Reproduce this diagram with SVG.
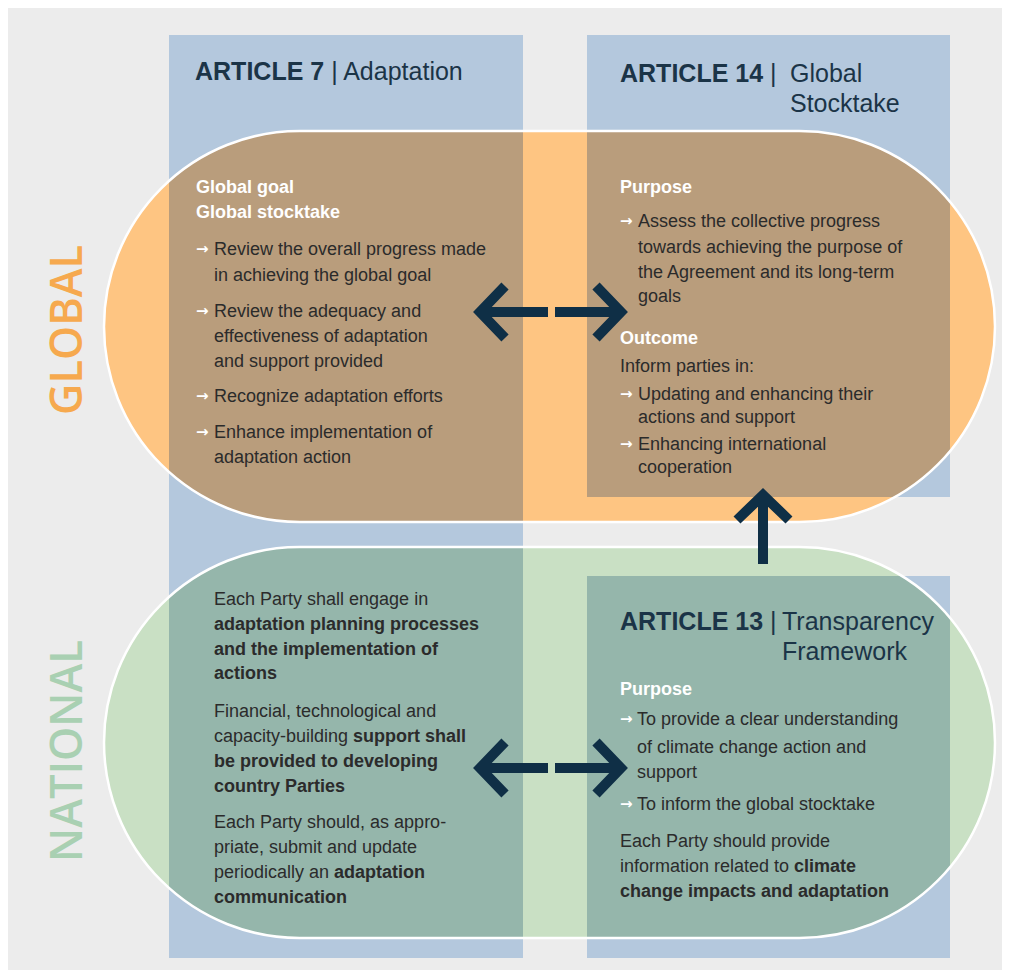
<svg xmlns="http://www.w3.org/2000/svg" width="1010" height="978" viewBox="0 0 1010 978">
<style>
.body{font-family:"Liberation Sans",Arial,sans-serif;font-size:18px;fill:#2b2b2b}
.b{font-weight:bold}
.wh{font-family:"Liberation Sans",Arial,sans-serif;font-size:18px;font-weight:bold;fill:#ffffff}
.bul{font-family:"DejaVu Sans",sans-serif;font-size:15px;font-weight:bold;fill:#ffffff}
.hd{font-family:"Liberation Sans",Arial,sans-serif;font-size:25px;fill:#1b3447}
.side{font-family:"Open Sans","Liberation Sans",Arial,sans-serif;font-size:46px;font-weight:600}
.arr{fill:none;stroke:#0f2f46;stroke-width:10;stroke-linecap:butt;stroke-linejoin:miter}
.outline{fill:none;stroke:#ffffff;stroke-width:2.5}
</style>
<defs>
<clipPath id="cg"><rect x="104" y="131" width="891" height="391" rx="195.5" ry="195.5"/></clipPath>
<clipPath id="cn"><rect x="104" y="547" width="891" height="391" rx="195.5" ry="195.5"/></clipPath>
</defs>
<rect x="0" y="0" width="1010" height="978" fill="#ffffff"/>
<rect x="8" y="8" width="994" height="962" fill="#ececec"/>

<g id="columns">
<rect x="169" y="35" width="354" height="923" fill="#b4c8dd"/>
<rect x="587" y="35" width="363" height="462" fill="#b4c8dd"/>
<rect x="587" y="576" width="363" height="382" fill="#b4c8dd"/>
</g>

<g id="global-pill">
<rect x="104" y="131" width="891" height="391" rx="195.5" ry="195.5" fill="#fec582"/>
<g clip-path="url(#cg)" fill="#b99d7c">
<rect x="169" y="35" width="354" height="923"/>
<rect x="587" y="35" width="363" height="462"/>
</g>
<rect class="outline" x="104" y="131" width="891" height="391" rx="195.5" ry="195.5"/>
</g>

<g id="national-pill">
<rect x="104" y="547" width="891" height="391" rx="195.5" ry="195.5" fill="#c9e0c4"/>
<g clip-path="url(#cn)" fill="#95b6ab">
<rect x="169" y="35" width="354" height="923"/>
<rect x="587" y="576" width="363" height="382"/>
</g>
<rect class="outline" x="104" y="547" width="891" height="391" rx="195.5" ry="195.5"/>
</g>

<g id="label-global">
<text class="side" transform="translate(82,330) rotate(-90)" text-anchor="middle" fill="#f6a94e" textLength="170" lengthAdjust="spacingAndGlyphs">GLOBAL</text>
</g>
<g id="label-national">
<text class="side" transform="translate(82,751) rotate(-90)" text-anchor="middle" fill="#a9d0b2" textLength="222" lengthAdjust="spacingAndGlyphs">NATIONAL</text>
</g>

<g id="article7-global">
<text class="hd" x="195" y="80"><tspan font-weight="bold">ARTICLE 7</tspan> | Adaptation</text>
<text class="wh" x="196" y="193">Global goal</text>
<text class="wh" x="196" y="218">Global stocktake</text>
<text class="bul" x="196" y="254">→</text>
<text class="body" x="214" y="255">Review the overall progress made</text>
<text class="body" x="214" y="281">in achieving the global goal</text>
<text class="bul" x="196" y="316">→</text>
<text class="body" x="214" y="317">Review the adequacy and</text>
<text class="body" x="214" y="342">effectiveness of adaptation</text>
<text class="body" x="214" y="367">and support provided</text>
<text class="bul" x="196" y="401">→</text>
<text class="body" x="214" y="402">Recognize adaptation efforts</text>
<text class="bul" x="196" y="437">→</text>
<text class="body" x="214" y="438">Enhance implementation of</text>
<text class="body" x="214" y="463">adaptation action</text>
</g>

<g id="article14-global">
<text class="hd" x="620" y="82"><tspan font-weight="bold">ARTICLE 14</tspan> | <tspan x="790">Global</tspan></text>
<text class="hd" x="790" y="112">Stocktake</text>
<text class="wh" x="620" y="193">Purpose</text>
<text class="bul" x="620" y="226">→</text>
<text class="body" x="638" y="227">Assess the collective progress</text>
<text class="body" x="638" y="253">towards achieving the purpose of</text>
<text class="body" x="638" y="278">the Agreement and its long-term</text>
<text class="body" x="638" y="302">goals</text>
<text class="wh" x="620" y="344">Outcome</text>
<text class="body" x="620" y="372">Inform parties in:</text>
<text class="bul" x="620" y="399">→</text>
<text class="body" x="638" y="400">Updating and enhancing their</text>
<text class="body" x="638" y="423">actions and support</text>
<text class="bul" x="620" y="449">→</text>
<text class="body" x="638" y="450">Enhancing international</text>
<text class="body" x="638" y="473">cooperation</text>
</g>

<g id="article7-national">
<text class="body" x="214" y="605">Each Party shall engage in</text>
<text class="body b" x="214" y="630">adaptation planning processes</text>
<text class="body b" x="214" y="655">and the implementation of</text>
<text class="body b" x="214" y="679">actions</text>
<text class="body" x="214" y="717">Financial, technological and</text>
<text class="body" x="214" y="742">capacity-building <tspan font-weight="bold">support shall</tspan></text>
<text class="body b" x="214" y="767">be provided to developing</text>
<text class="body b" x="214" y="792">country Parties</text>
<text class="body" x="214" y="828">Each Party should, as appro-</text>
<text class="body" x="214" y="853">priate, submit and update</text>
<text class="body" x="214" y="878">periodically an <tspan font-weight="bold">adaptation</tspan></text>
<text class="body b" x="214" y="903">communication</text>
</g>

<g id="article13-national">
<text class="hd" x="620" y="630"><tspan font-weight="bold">ARTICLE 13</tspan> | <tspan x="782">Transparency</tspan></text>
<text class="hd" x="782" y="660">Framework</text>
<text class="wh" x="620" y="695">Purpose</text>
<text class="bul" x="620" y="724">→</text>
<text class="body" x="637" y="725">To provide a clear understanding</text>
<text class="body" x="637" y="753">of climate change action and</text>
<text class="body" x="637" y="778">support</text>
<text class="bul" x="620" y="809">→</text>
<text class="body" x="637" y="810">To inform the global stocktake</text>
<text class="body" x="620" y="847">Each Party should provide</text>
<text class="body" x="620" y="872">information related to <tspan font-weight="bold">climate</tspan></text>
<text class="body b" x="620" y="897">change impacts and adaptation</text>
</g>

<g id="connectors">
<path class="arr" d="M548,312 H482 M505,286 L480,312 L505,338"/>
<path class="arr" d="M555,312 H618 M596,286 L621,312 L596,338"/>
<path class="arr" d="M548,768 H482 M505,742 L480,768 L505,794"/>
<path class="arr" d="M555,768 H618 M596,742 L621,768 L596,794"/>
<path class="arr" d="M763,564 V498 M737,520 L763,495 L789,520"/>
</g>
</svg>
